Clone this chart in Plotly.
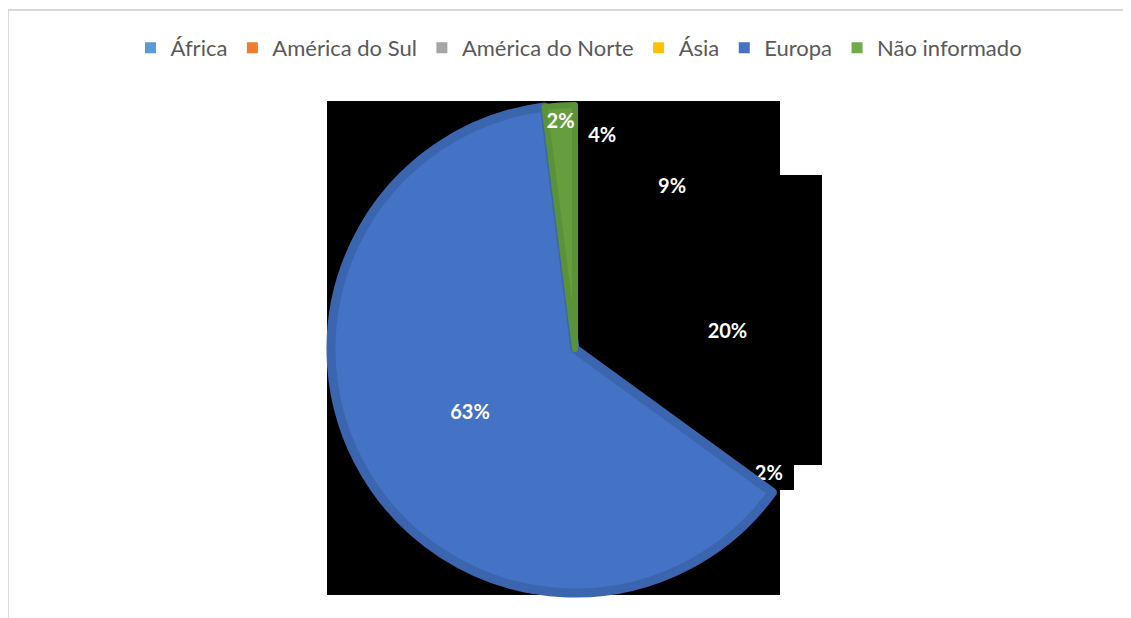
import plotly.graph_objects as go

# page has an 8px body margin, so the figure is drawn 8px smaller and offset
OFF = 8
W, H = 1131 - OFF, 618 - OFF

categories = ["África", "América do Sul", "América do Norte", "Ásia", "Europa", "Não informado"]
values = [4, 9, 20, 2, 63, 2]
legend_colors = ["#5B9BD5", "#ED7D31", "#A5A5A5", "#FFC000", "#4472C4", "#70AD47"]
# slice fills as they appear in the picture (first slices rendered black)
slice_colors = ["#000000", "#000000", "#000000", "#000000", "#4472C4", "#669E3F"]
rim_colors = ["#000000", "#000000", "#000000", "#000000", "#3C65B0", "#5A9237"]
rim_widths = [0, 0, 0, 0, 9, 6]

def px_x(x):
    return (x - OFF) / W

def px_y(y):
    return 1 - (y - OFF) / H

fig = go.Figure()

fig.add_trace(go.Pie(
    labels=categories,
    values=values,
    sort=False,
    direction="clockwise",
    rotation=0,
    showlegend=False,
    marker=dict(colors=slice_colors, line=dict(color=rim_colors, width=rim_widths)),
    textinfo="percent",
    textposition="inside",
    insidetextorientation="horizontal",
    textfont=dict(family="Lato", size=20, color="white", weight="bold"),
    domain=dict(x=[px_x(331), px_x(819)], y=[px_y(593), px_y(105)]),
    hoverinfo="label+percent",
))

for name, col in zip(categories, legend_colors):
    fig.add_trace(go.Scatter(
        x=[None], y=[None], mode="markers", name=name,
        marker=dict(symbol="square", size=11, color=col),
        showlegend=True,
    ))

shapes = [
    # chart frame (light grey border)
    dict(type="line", xref="paper", yref="paper", x0=px_x(7), x1=px_x(1131), y0=px_y(10), y1=px_y(10),
         line=dict(color="#D9D9D9", width=2)),
    dict(type="line", xref="paper", yref="paper", x0=px_x(8), x1=px_x(8), y0=px_y(10), y1=px_y(618),
         line=dict(color="#D9D9D9", width=2)),
    # black rendering artefacts behind the pie
    dict(type="rect", xref="paper", yref="paper", x0=px_x(327), x1=px_x(780), y0=px_y(595), y1=px_y(101),
         fillcolor="black", line=dict(width=0), layer="below"),
    dict(type="rect", xref="paper", yref="paper", x0=px_x(780), x1=px_x(822), y0=px_y(465), y1=px_y(175),
         fillcolor="black", line=dict(width=0), layer="below"),
    dict(type="rect", xref="paper", yref="paper", x0=px_x(780), x1=px_x(794), y0=px_y(490), y1=px_y(465),
         fillcolor="black", line=dict(width=0), layer="below"),
]

fig.update_layout(
    width=W, height=H,
    margin=dict(l=0, r=0, t=0, b=0),
    paper_bgcolor="white",
    plot_bgcolor="rgba(0,0,0,0)",
    xaxis=dict(visible=False),
    yaxis=dict(visible=False),
    shapes=shapes,
    uniformtext=dict(minsize=20, mode="show"),
    legend=dict(
        orientation="h",
        x=px_x(579), xanchor="center",
        y=px_y(48), yanchor="middle",
        font=dict(family="Lato", size=22, color="#595959"),
        itemwidth=30,
        bgcolor="rgba(0,0,0,0)",
    ),
)

fig.write_html("out.html")
